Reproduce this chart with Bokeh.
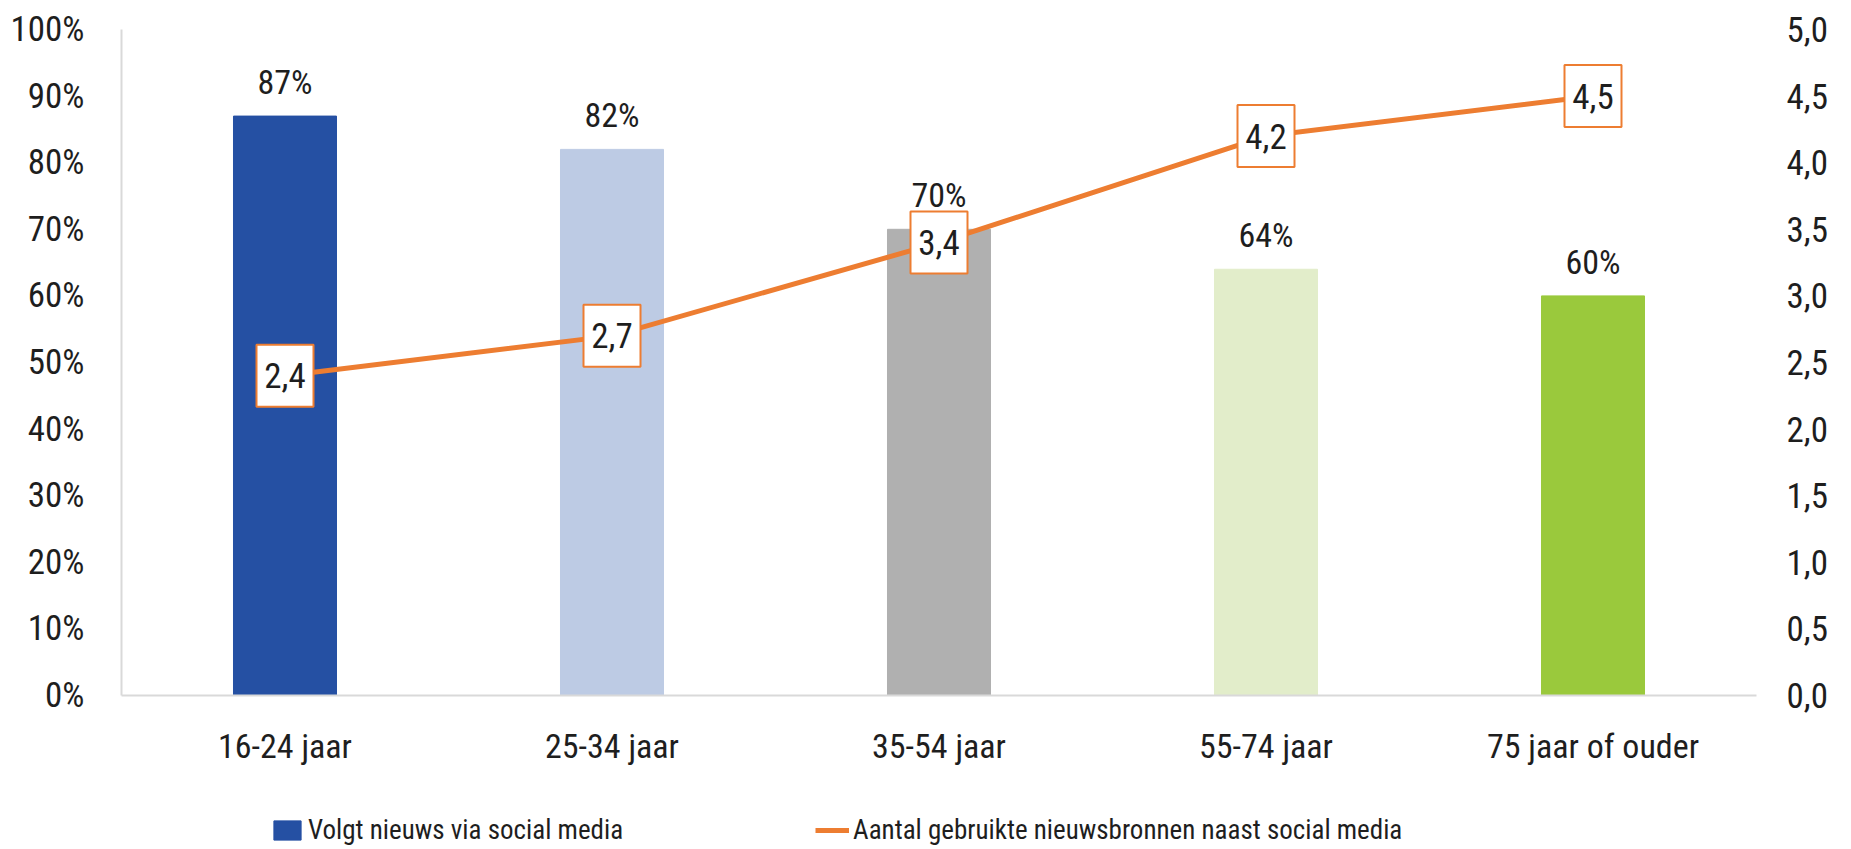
from bokeh.plotting import figure
from bokeh.layouts import column
from bokeh.models import (ColumnDataSource, Range1d, LinearAxis, FixedTicker, LabelSet,
                          Legend, LegendItem, FactorRange)
from bokeh.core.properties import value
from bokeh.embed import file_html
from bokeh.resources import INLINE

categories = ["16-24 jaar", "25-34 jaar", "35-54 jaar", "55-74 jaar", "75 jaar of ouder"]
pct_social = [87, 82, 70, 64, 60]
n_sources = [2.4, 2.7, 3.4, 4.2, 4.5]
bar_colors = ["#2550A3", "#BDCBE4", "#B0B0B0", "#E2EDCA", "#9AC93C"]
left_ticks = [0, 10, 20, 30, 40, 50, 60, 70, 80, 90, 100]
right_ticks = [0.0, 0.5, 1.0, 1.5, 2.0, 2.5, 3.0, 3.5, 4.0, 4.5, 5.0]
series_names = ["Volgt nieuws via social media", "Aantal gebruikte nieuwsbronnen naast social media"]

FONT = "Roboto Condensed"
FS_TICK = "35px"
FS = "34px"
TXT = "#1e1e1e"
ORANGE = "#ED7D31"

src = ColumnDataSource(dict(
    cat=categories, pct=pct_social, col=bar_colors,
    pct_lbl=[f"{v}%" for v in pct_social],
    n=n_sources, n_lbl=[f"{v:.1f}".replace(".", ",") for v in n_sources],
))

p = figure(x_range=FactorRange(*categories, range_padding=0), y_range=Range1d(0, 100),
           width=1835, height=780, output_backend="svg", toolbar_location=None,
           min_border_left=121, min_border_right=79, min_border_top=29, min_border_bottom=85)
p.extra_y_ranges = {"right": Range1d(0, 5)}
p.outline_line_color = None
p.xgrid.visible = False
p.ygrid.visible = False
p.background_fill_color = "white"
p.border_fill_color = "white"

bars = p.vbar(x="cat", top="pct", width=0.315, color="col", source=src)
line = p.line(x="cat", y="n", y_range_name="right", line_color=ORANGE, line_width=5, source=src)
p.rect(x="cat", y="n", y_range_name="right", width=57, height=62, width_units="screen",
       height_units="screen", fill_color="white", line_color=ORANGE, line_width=2, source=src)
p.text(x="cat", y="n", y_range_name="right", text="n_lbl", source=src, text_align="center",
       text_baseline="middle", text_font=value(FONT), text_font_size=FS_TICK, text_color=TXT)

# axes
ya = p.yaxis[0]
ya.ticker = FixedTicker(ticks=left_ticks)
ya.major_label_overrides = {t: f"{t}%" for t in left_ticks}
ya.axis_line_color = "#D9D9D9"
ya.axis_line_width = 2
ya.major_tick_line_color = None
ya.major_tick_out = 0
ya.minor_tick_line_color = None
ya.major_label_standoff = 37
ya.major_label_text_font = FONT
ya.major_label_text_font_size = FS_TICK
ya.major_label_text_color = TXT

ra = LinearAxis(y_range_name="right", ticker=FixedTicker(ticks=right_ticks))
ra.major_label_overrides = {t: f"{t:.1f}".replace(".", ",") for t in right_ticks}
ra.axis_line_color = None
ra.major_tick_line_color = None
ra.major_tick_out = 0
ra.minor_tick_line_color = None
ra.major_label_standoff = 30
ra.major_label_text_font = FONT
ra.major_label_text_font_size = FS_TICK
ra.major_label_text_color = TXT
p.add_layout(ra, "right")

xa = p.xaxis[0]
xa.axis_line_color = "#D9D9D9"
xa.axis_line_width = 2
xa.major_tick_line_color = None
xa.major_tick_out = 0
xa.major_label_standoff = 30
xa.major_label_text_font = FONT
xa.major_label_text_font_size = FS
xa.major_label_text_color = TXT

# bar labels
p.add_layout(LabelSet(x="cat", y="pct", text="pct_lbl", source=src, text_align="center",
                      text_baseline="bottom", y_offset=14, text_font=value(FONT),
                      text_font_size=value(FS), text_color=value(TXT)))

# legend strip: a second figure whose frame holds the legend
lg = figure(width=1835, height=66, x_range=Range1d(0, 1), y_range=Range1d(0, 1),
            x_axis_type=None, y_axis_type=None, output_backend="svg", toolbar_location=None,
            min_border_left=0, min_border_right=0, min_border_top=0, min_border_bottom=0)
lg.outline_line_color = None
lg.xgrid.visible = False
lg.ygrid.visible = False
# legend swatches (kept outside the visible range; only their legend glyphs show)
sw_bar = lg.vbar(x=[-5], top=[-5], width=0.3, color=bar_colors[0])
sw_line = lg.line(x=[-5, -4], y=[-5, -5], line_color=ORANGE, line_width=5)

legend = Legend(items=[LegendItem(label=series_names[0], renderers=[sw_bar]),
                       LegendItem(label=series_names[1], renderers=[sw_line])],
                orientation="horizontal", location=(149, 0), spacing=192,
                glyph_width=34, glyph_height=24, label_standoff=4,
                label_text_font=FONT, label_text_font_size="27px", label_text_color=TXT,
                border_line_color=None, background_fill_alpha=0, padding=0, margin=0)
lg.add_layout(legend, "center")

open("out.html", "w").write(file_html(column(p, lg), INLINE))
